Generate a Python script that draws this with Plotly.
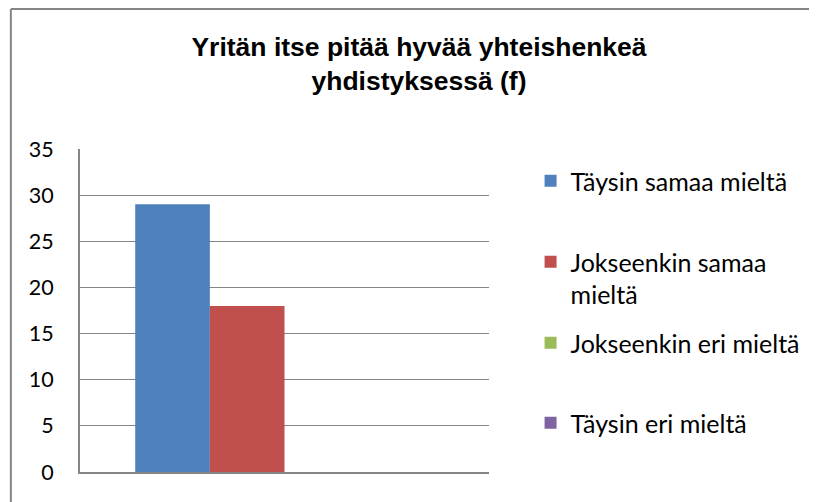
import plotly.graph_objects as go

# ---- data ----
categories = ["f"]
series_names = ["Täysin samaa mieltä", "Jokseenkin samaa<br>mieltä",
                "Jokseenkin eri mieltä", "Täysin eri mieltä"]
series_values = [[29], [18], [0], [0]]
series_colors = ["#4F81BD", "#C0504D", "#9BBB59", "#8064A2"]
y_ticks = [0, 5, 10, 15, 20, 25, 30, 35]
title_text = "Yritän itse pitää hyvää yhteishenkeä<br>yhdistyksessä (f)"

# page has an 8px body margin, so the figure is drawn 8px smaller and coordinates shifted
OFF = 8
W, H = 817 - OFF, 502 - OFF
L, R, T, B = 80 - OFF, 503 - OFF, 149 - OFF, 472 - OFF  # plot area pixels (figure coords)


def px_x(p):
    """page pixel x -> paper coordinate"""
    return (p - OFF - L) / (R - L)


def px_y(p):
    """page pixel y -> paper coordinate"""
    return (B - (p - OFF)) / (B - T)


legend_ids = ["legend", "legend2", "legend3", "legend4"]
legend_centers = [181, 261, 343, 423]

fig = go.Figure()
for name, vals, col, lid in zip(series_names, series_values, series_colors, legend_ids):
    fig.add_trace(go.Bar(x=categories, y=vals, name=name, marker_color=col,
                         marker_line_width=0, legend=lid, showlegend=True))

legend_font = dict(family="Lato, Carlito, Calibri, sans-serif", size=25, color="#000000")
legend_left = 586 - 40
layout_legends = {}
for lid, cy in zip(legend_ids, legend_centers):
    if lid == "legend2":
        layout_legends[lid] = dict(x=px_x(legend_left), y=px_y(cy - 22), xanchor="left",
                                   yanchor="top", valign="top", font=legend_font,
                                   bgcolor="rgba(0,0,0,0)", borderwidth=0)
    else:
        layout_legends[lid] = dict(x=px_x(legend_left), y=px_y(cy), xanchor="left",
                                   yanchor="middle", font=legend_font,
                                   bgcolor="rgba(0,0,0,0)", borderwidth=0)

border = dict(color="#868686", width=2)
fig.update_layout(
    width=W, height=H,
    margin=dict(l=L, r=W - R, t=T, b=H - B, pad=0),
    paper_bgcolor="white", plot_bgcolor="white",
    barmode="group", bargap=0.27, bargroupgap=0,
    title=dict(text=title_text, x=(419 - OFF) / W, xanchor="center", xref="container",
               y=1 - (56 - OFF) / H, yanchor="middle", yref="container",
               font=dict(family="Liberation Sans, Arial, sans-serif", size=26.5,
                         color="#000000", weight="bold")),
    xaxis=dict(showticklabels=False, showline=True, linecolor="#868686", linewidth=2,
               showgrid=False, ticks="", fixedrange=True),
    yaxis=dict(range=[0, 35], tickvals=y_ticks, showline=True, linecolor="#868686",
               linewidth=2, showgrid=True, gridcolor="#868686", gridwidth=1,
               zeroline=False, ticks="", ticklabelstandoff=20,
               tickfont=dict(family="Lato, Carlito, Calibri, sans-serif", size=21.5,
                             color="#000000")),
    shapes=[
        dict(type="line", xref="paper", yref="paper",
             x0=px_x(8.5), x1=px_x(840), y0=px_y(9), y1=px_y(9), line=border),
        dict(type="line", xref="paper", yref="paper",
             x0=px_x(8.5), x1=px_x(8.5), y0=px_y(9), y1=px_y(520), line=border),
    ],
    **layout_legends,
)

fig.write_html("out.html")
